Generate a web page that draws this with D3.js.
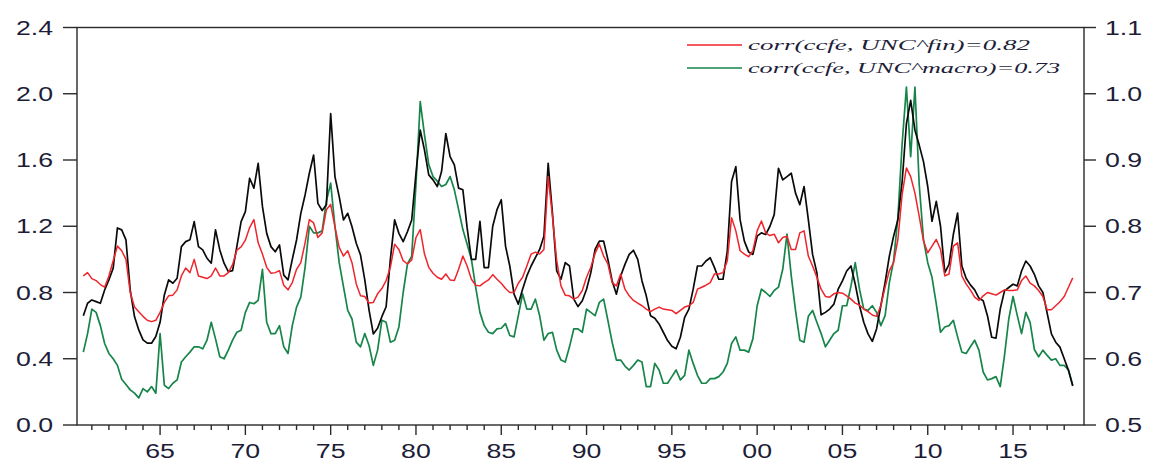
<!DOCTYPE html>
<html>
<head>
<meta charset="utf-8">
<script src="https://cdn.jsdelivr.net/npm/d3@7"></script>
<style>
  body { margin: 0; background: #fff; }
  svg { display: block; }
</style>
</head>
<body>
<svg id="chart" width="1153" height="473"></svg>
<script>
// Quarterly observations, first one is 1960Q3
const startQuarter = 1960.5;

// ccfc (left axis)
const ccfc = [
  0.66, 0.735, 0.755, 0.745, 0.735, 0.815, 0.876, 0.946, 1.19, 1.178, 1.118, 0.815, 0.655, 0.574, 0.514, 0.494, 0.494, 0.534, 0.62, 0.785, 0.876, 0.856, 0.886, 1.077, 1.107, 1.118, 1.228, 1.077, 1.057, 1.007, 0.977, 1.178, 1.057, 0.977, 0.926, 0.932, 1.077, 1.228,
  1.288, 1.49, 1.43, 1.58, 1.32, 1.157, 1.077, 1.046, 1.087, 0.905, 0.876, 1.0, 1.117, 1.278, 1.389, 1.52, 1.63, 1.338, 1.295, 1.33, 1.88, 1.50, 1.379, 1.238, 1.278, 1.197, 1.097, 1.026, 0.876, 0.694, 0.55, 0.584, 0.654, 0.714, 1.0, 1.238, 1.157, 1.107, 1.167, 1.238, 1.519, 1.781,
  1.66, 1.51, 1.48, 1.44, 1.53, 1.76, 1.62, 1.57, 1.43, 1.42, 1.19, 1.00, 1.00, 1.23, 0.95, 0.95, 1.20, 1.30, 1.36, 1.08, 0.96, 0.79, 0.73, 0.82, 0.90, 0.96, 1.01, 1.06, 1.14, 1.58, 1.28, 0.93, 0.88, 0.98, 0.96, 0.76, 0.715, 0.75, 0.82, 0.92, 1.06, 1.11,
  1.11, 1.0, 0.87, 0.79, 0.90, 0.97, 1.03, 1.055, 1.0, 0.87, 0.78, 0.66, 0.645, 0.61, 0.56, 0.51, 0.475, 0.46, 0.53, 0.65, 0.70, 0.82, 0.96, 0.96, 0.99, 1.01, 0.95, 0.88, 0.88, 1.05, 1.47, 1.56, 1.24, 1.11, 1.045, 1.03, 1.14, 1.16, 1.15, 1.20,
  1.27, 1.55, 1.48, 1.50, 1.52, 1.40, 1.33, 1.44, 1.24, 1.03, 0.92, 0.665, 0.68, 0.70, 0.73, 0.82, 0.87, 0.93, 0.96, 0.85, 0.72, 0.62, 0.55, 0.505, 0.58, 0.72, 0.86, 1.02, 1.14, 1.24, 1.47, 1.82, 1.96, 1.78, 1.69, 1.59, 1.44, 1.23, 1.35, 1.20,
  0.92, 0.97, 1.15, 1.28, 0.96, 0.886, 0.846, 0.816, 0.766, 0.75, 0.66, 0.53, 0.525, 0.70, 0.81, 0.83, 0.85, 0.84, 0.93, 0.99, 0.96, 0.91, 0.84, 0.80, 0.675, 0.55, 0.50, 0.47, 0.40, 0.33, 0.235
];

// UNC^fin (right axis)
const uncFin = [
  0.725, 0.73, 0.721, 0.718, 0.712, 0.708, 0.725, 0.748, 0.77, 0.763, 0.75, 0.70, 0.678, 0.671, 0.664, 0.658, 0.656, 0.658, 0.67, 0.685, 0.695, 0.696, 0.704, 0.725, 0.737, 0.73, 0.75, 0.725, 0.723, 0.721, 0.725, 0.737, 0.725, 0.725, 0.73, 0.742, 0.764, 0.769,
  0.779, 0.798, 0.81, 0.775, 0.758, 0.738, 0.729, 0.73, 0.733, 0.711, 0.704, 0.715, 0.735, 0.745, 0.775, 0.81, 0.805, 0.783, 0.79, 0.825, 0.833, 0.799, 0.768, 0.755, 0.763, 0.745, 0.713, 0.695, 0.694, 0.684, 0.685, 0.698, 0.706, 0.718, 0.738, 0.773, 0.765, 0.748, 0.743, 0.749, 0.783, 0.795,
  0.758, 0.738, 0.729, 0.723, 0.72, 0.728, 0.719, 0.718, 0.735, 0.755, 0.74, 0.72, 0.711, 0.71, 0.715, 0.719, 0.727, 0.72, 0.714, 0.706, 0.70, 0.70, 0.714, 0.723, 0.74, 0.758, 0.761, 0.758, 0.765, 0.875, 0.815, 0.748, 0.71, 0.696, 0.695, 0.69, 0.693, 0.703, 0.723, 0.738, 0.759, 0.773,
  0.755, 0.743, 0.715, 0.71, 0.728, 0.705, 0.695, 0.688, 0.684, 0.68, 0.675, 0.671, 0.675, 0.678, 0.675, 0.674, 0.673, 0.668, 0.673, 0.678, 0.68, 0.685, 0.705, 0.708, 0.711, 0.715, 0.728, 0.728, 0.73, 0.748, 0.813, 0.793, 0.763, 0.758, 0.754, 0.763, 0.793, 0.808, 0.79, 0.786,
  0.788, 0.775, 0.783, 0.785, 0.765, 0.765, 0.79, 0.793, 0.755, 0.74, 0.723, 0.705, 0.694, 0.693, 0.698, 0.70, 0.699, 0.695, 0.69, 0.684, 0.681, 0.675, 0.671, 0.666, 0.664, 0.68, 0.708, 0.733, 0.745, 0.78, 0.848, 0.888, 0.875, 0.85, 0.815, 0.778, 0.76, 0.77, 0.78, 0.765,
  0.725, 0.728, 0.77, 0.775, 0.725, 0.713, 0.704, 0.693, 0.688, 0.695, 0.70, 0.698, 0.696, 0.70, 0.704, 0.703, 0.703, 0.704, 0.718, 0.725, 0.714, 0.71, 0.703, 0.694, 0.674, 0.674, 0.68, 0.686, 0.694, 0.708, 0.722
];

// UNC^macro (right axis)
const uncMacro = [
  0.61, 0.638, 0.675, 0.67, 0.65, 0.623, 0.608, 0.60, 0.59, 0.569, 0.561, 0.553, 0.548, 0.541, 0.555, 0.55, 0.558, 0.548, 0.638, 0.56, 0.555, 0.563, 0.568, 0.595, 0.603, 0.61, 0.618, 0.618, 0.615, 0.628, 0.655, 0.63, 0.603, 0.60, 0.613, 0.628, 0.64, 0.643,
  0.67, 0.685, 0.683, 0.688, 0.735, 0.655, 0.638, 0.638, 0.65, 0.618, 0.608, 0.65, 0.678, 0.693, 0.738, 0.80, 0.79, 0.79, 0.793, 0.838, 0.865, 0.80, 0.745, 0.709, 0.673, 0.66, 0.625, 0.618, 0.638, 0.62, 0.59, 0.613, 0.658, 0.655, 0.625, 0.628, 0.648, 0.70, 0.743, 0.755, 0.863, 0.988,
  0.938, 0.893, 0.875, 0.868, 0.86, 0.863, 0.875, 0.855, 0.825, 0.795, 0.773, 0.75, 0.708, 0.67, 0.65, 0.64, 0.638, 0.645, 0.646, 0.653, 0.635, 0.633, 0.665, 0.698, 0.675, 0.675, 0.69, 0.665, 0.628, 0.638, 0.64, 0.613, 0.598, 0.595, 0.618, 0.645, 0.645, 0.64, 0.675, 0.67, 0.665, 0.685,
  0.69, 0.658, 0.625, 0.598, 0.598, 0.589, 0.583, 0.59, 0.598, 0.595, 0.558, 0.558, 0.593, 0.583, 0.563, 0.563, 0.573, 0.583, 0.568, 0.575, 0.613, 0.593, 0.575, 0.563, 0.563, 0.57, 0.57, 0.573, 0.58, 0.593, 0.623, 0.633, 0.613, 0.613, 0.61, 0.63, 0.68, 0.705, 0.70, 0.694,
  0.703, 0.708, 0.735, 0.788, 0.725, 0.673, 0.628, 0.625, 0.664, 0.673, 0.655, 0.638, 0.618, 0.628, 0.638, 0.643, 0.68, 0.68, 0.71, 0.745, 0.705, 0.675, 0.673, 0.68, 0.67, 0.65, 0.665, 0.715, 0.748, 0.813, 0.925, 1.01, 0.905, 1.01, 0.863, 0.78, 0.745, 0.723, 0.683, 0.64,
  0.648, 0.65, 0.658, 0.633, 0.61, 0.608, 0.618, 0.628, 0.613, 0.58, 0.568, 0.57, 0.573, 0.558, 0.605, 0.66, 0.694, 0.665, 0.638, 0.67, 0.655, 0.614, 0.603, 0.613, 0.605, 0.598, 0.60, 0.59, 0.59, 0.583, 0.56
];

const leftTicks = [0.0, 0.4, 0.8, 1.2, 1.6, 2.0, 2.4];
const rightTicks = [0.5, 0.6, 0.7, 0.8, 0.9, 1.0, 1.1];
const yearTicks = d3.range(1961, 2019);
const labelYears = [1965, 1970, 1975, 1980, 1985, 1990, 1995, 2000, 2005, 2010, 2015];
const legendLabels = ["corr(ccfe, UNC^fin)=0.82", "corr(ccfe, UNC^macro)=0.73"];

// ---- layout ----
const W = 1153, H = 473;
const plot = { left: 77, right: 1084, top: 27.5, bottom: 425 };
const SX = 1.37;                 // horizontal stretch of the lettering
const tickFont = "'Liberation Sans', Arial, sans-serif";
const textColor = "#1d1d38";
const frameColor = "#2a2a2a";

const svg = d3.select("#chart");

const x = d3.scaleLinear().domain([1960.13, 2019.16]).range([plot.left, plot.right]);
const yL = d3.scaleLinear().domain([0, 2.4]).range([plot.bottom, plot.top]);
const yR = d3.scaleLinear().domain([0.5, 1.1]).range([plot.bottom, plot.top]);

const t = i => startQuarter + i / 4;

// ---- series ----
const lineL = d3.line().x((d, i) => x(t(i))).y(d => yL(d));
const lineR = d3.line().x((d, i) => x(t(i))).y(d => yR(d));

const gLines = svg.append("g");
gLines.append("path").datum(uncMacro).attr("d", lineR)
  .attr("fill", "none").attr("stroke", "#17854a").attr("stroke-width", 1.7).attr("stroke-linejoin", "round");
gLines.append("path").datum(ccfc).attr("d", lineL)
  .attr("fill", "none").attr("stroke", "#0a0a0a").attr("stroke-width", 1.7).attr("stroke-linejoin", "round");
gLines.append("path").datum(uncFin).attr("d", lineR)
  .attr("fill", "none").attr("stroke", "#f0242b").attr("stroke-width", 1.5).attr("stroke-linejoin", "round");

// ---- frame ----
svg.append("rect")
  .attr("x", plot.left).attr("y", plot.top)
  .attr("width", plot.right - plot.left).attr("height", plot.bottom - plot.top)
  .attr("fill", "none").attr("stroke", frameColor).attr("stroke-width", 1.4);

function label(g, px, py, str, anchor) {
  g.append("text")
    .attr("transform", `translate(${px},${py}) scale(${SX},1)`)
    .attr("text-anchor", anchor)
    .attr("font-family", tickFont)
    .attr("font-size", 19.5)
    .attr("fill", textColor)
    .text(str);
}

// ---- left axis ----
const gL = svg.append("g");
const fmt1 = d3.format(".1f");
leftTicks.forEach(v => {
  gL.append("line").attr("x1", plot.left - 14).attr("x2", plot.left)
    .attr("y1", yL(v)).attr("y2", yL(v)).attr("stroke", frameColor).attr("stroke-width", 1.4);
  label(gL, plot.left - 24, yL(v) + 7, fmt1(v), "end");
});

// ---- right axis ----
const gR = svg.append("g");
rightTicks.forEach(v => {
  gR.append("line").attr("x1", plot.right).attr("x2", plot.right + 12)
    .attr("y1", yR(v)).attr("y2", yR(v)).attr("stroke", frameColor).attr("stroke-width", 1.4);
  label(gR, plot.right + 21, yR(v) + 7, fmt1(v), "start");
});

// ---- time axis ----
const gX = svg.append("g");
yearTicks.forEach(yr => {
  const major = labelYears.includes(yr);
  gX.append("line").attr("x1", x(yr)).attr("x2", x(yr))
    .attr("y1", plot.bottom).attr("y2", plot.bottom + (major ? 10 : 5))
    .attr("stroke", frameColor).attr("stroke-width", 1.4);
});
labelYears.forEach(yr => {
  label(gX, x(yr), plot.bottom + 33, String(yr % 100).padStart(2, "0"), "middle");
});

// ---- legend ----
const legend = svg.append("g");
const legendColors = ["#f0242b", "#17854a"];
const legendWidths = [282, 312];
legendLabels.forEach((s, i) => {
  const ly = 45 + i * 23;
  legend.append("line").attr("x1", 687).attr("x2", 742).attr("y1", ly).attr("y2", ly)
    .attr("stroke", legendColors[i]).attr("stroke-width", 1.5);
  legend.append("text")
    .attr("x", 748).attr("y", ly + 5)
    .attr("font-family", "'Liberation Serif', 'Times New Roman', serif")
    .attr("font-style", "italic")
    .attr("font-size", 15)
    .attr("fill", textColor)
    .attr("textLength", legendWidths[i])
    .attr("lengthAdjust", "spacingAndGlyphs")
    .text(s);
});
</script>
</body>
</html>
